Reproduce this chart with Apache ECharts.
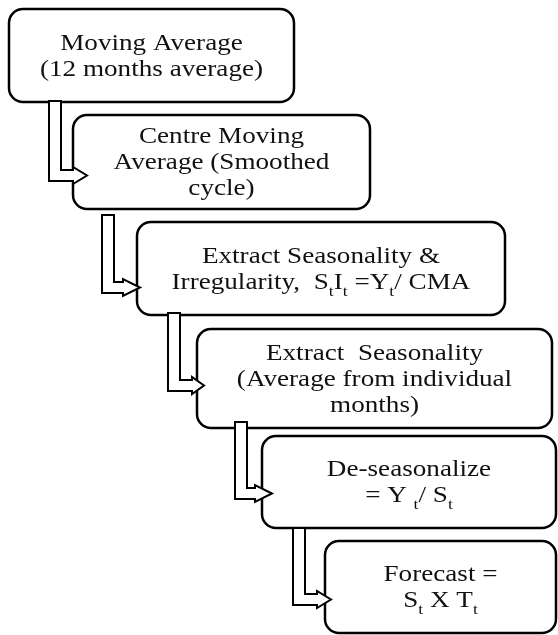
<!DOCTYPE html>
<html>
<head>
<meta charset="utf-8">
<script src="https://cdn.jsdelivr.net/npm/echarts@6/dist/echarts.min.js"></script>
<style>
  html, body { margin: 0; padding: 0; background: #fff; }
  #flow { width: 558px; height: 635px; }
</style>
</head>
<body>
<div id="flow"></div>
<script>
// step texts, {s|t} = subscript t
var steps = [
    'Moving Average\n(12 months average)',
    'Centre Moving\nAverage (Smoothed\ncycle)',
    'Extract Seasonality &\nIrregularity,  S{s|t}I{s|t} =Y{s|t}/ CMA',
    'Extract  Seasonality\n(Average from individual\nmonths)',
    'De-seasonalize\n= Y {s|t}/ S{s|t}',
    'Forecast =\nS{s|t} X T{s|t}'
];

// box layout (px)
var boxLeft = [9, 73, 137, 197, 262, 325];
var boxTop = [9, 115, 222, 329, 436, 541];
var boxRight = [294, 370, 505, 552, 556, 556];
var boxBottom = [102, 209, 315, 428, 528, 633];

// bent arrows between boxes
var arrowX = [49, 102, 168, 235, 293];
var arrowTop = [101, 215, 313, 422, 528];
var arrowBend = [181, 293, 391, 499, 605];
var arrowHeadX = [73, 123, 192, 255, 317];
var arrowTipX = [87, 140, 204, 272, 331];

var chart = echarts.init(document.getElementById('flow'));

var elements = [];

for (var i = 0; i < steps.length; i++) {
    elements.push({
        type: 'rect',
        shape: {
            x: boxLeft[i],
            y: boxTop[i],
            width: boxRight[i] - boxLeft[i],
            height: boxBottom[i] - boxTop[i],
            r: 14
        },
        style: { fill: '#fff', stroke: '#000', lineWidth: 2.5 },
        z: 1
    });
    elements.push({
        type: 'text',
        x: (boxLeft[i] + boxRight[i]) / 2,
        y: (boxTop[i] + boxBottom[i]) / 2 + 1,
        scaleX: 1.18,
        style: {
            text: steps[i],
            x: 0,
            y: 0,
            align: 'center',
            verticalAlign: 'middle',
            fill: '#111',
            fontFamily: 'Liberation Serif',
            fontSize: 23,
            lineHeight: 26,
            rich: {
                // negative bottom padding pushes the t below the baseline
                s: {
                    fontFamily: 'Liberation Serif',
                    fontSize: 15,
                    padding: [0, 0, -4, 0],
                    verticalAlign: 'bottom',
                    fill: '#111'
                }
            }
        },
        z: 3
    });
}

var sw = 12;   // shaft width
var sh = 11;   // horizontal shaft thickness
for (var j = 0; j < arrowX.length; j++) {
    var x0 = arrowX[j], t = arrowTop[j], b = arrowBend[j];
    var hx = arrowHeadX[j], tx = arrowTipX[j];
    elements.push({
        type: 'polygon',
        shape: {
            points: [
                [x0, t], [x0 + sw, t], [x0 + sw, b - sh], [hx, b - sh],
                [hx, b - sh - 3], [tx, b - sh / 2], [hx, b + 3], [hx, b], [x0, b]
            ]
        },
        style: { fill: '#fff', stroke: '#000', lineWidth: 2 },
        z: 2
    });
}

var option = {
    backgroundColor: '#fff',
    graphic: { elements: elements }
};
chart.setOption(option);
</script>
</body>
</html>
